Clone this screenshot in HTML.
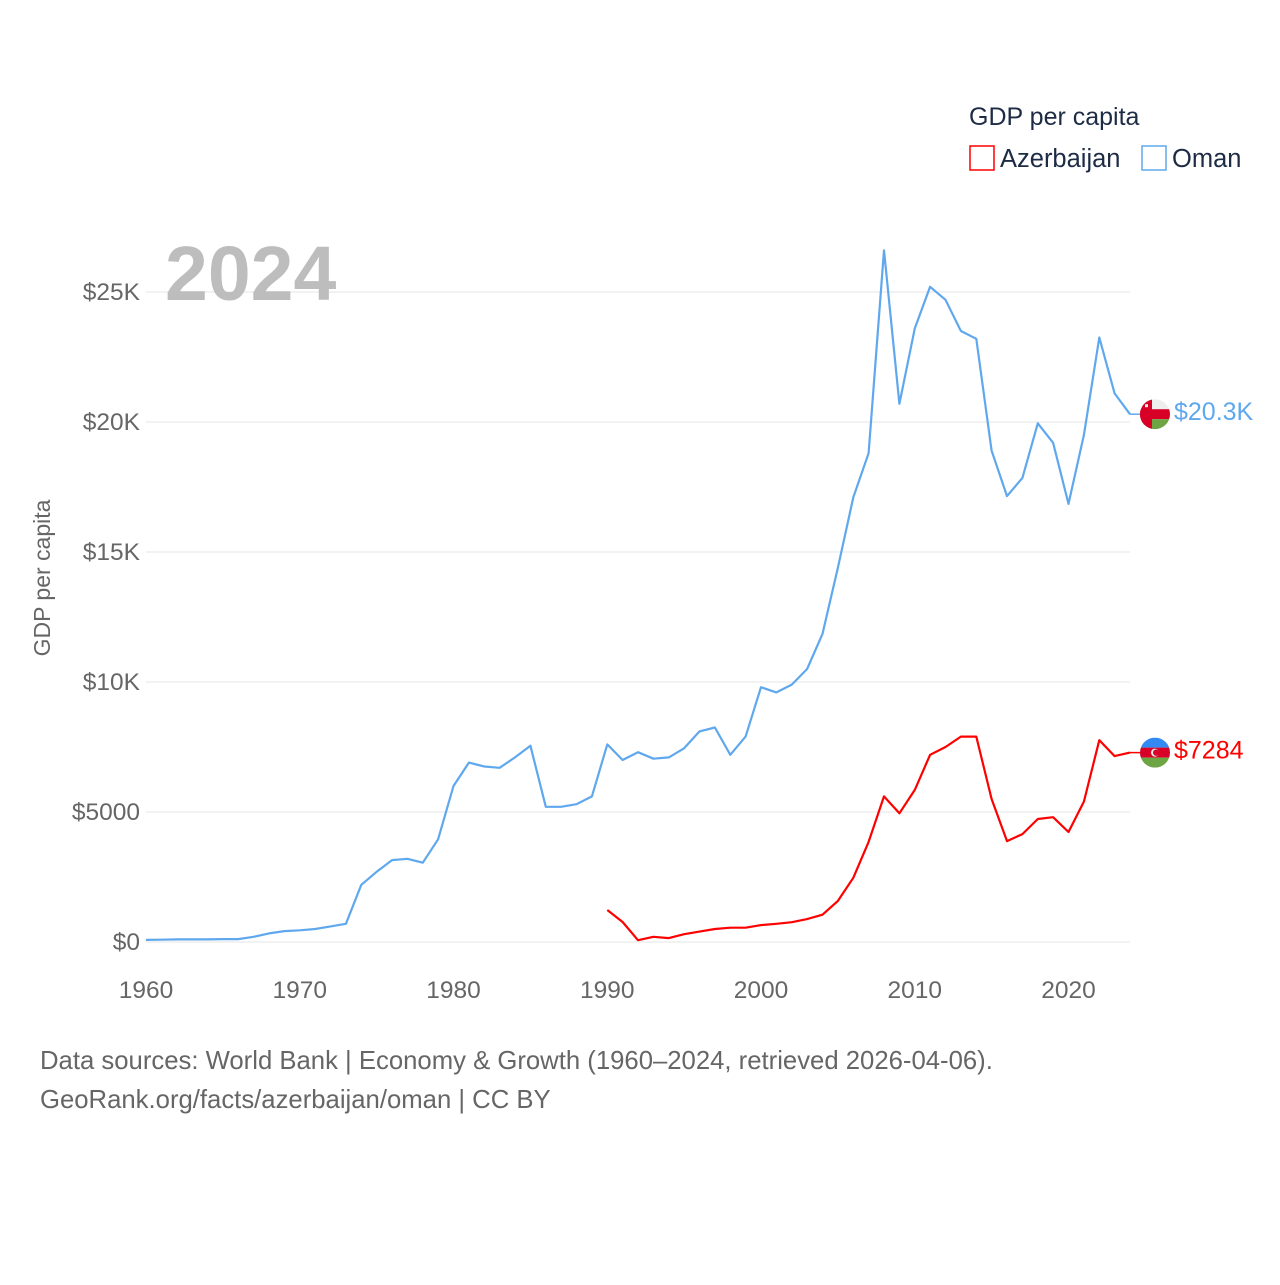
<!DOCTYPE html>
<html><head><meta charset="utf-8"><style>
body{margin:0;background:#fff;}
svg text{font-family:"Liberation Sans",sans-serif;}
</style></head><body>
<svg id="chart" width="1280" height="1280" viewBox="0 0 1280 1280">
<defs>
<clipPath id="c1"><circle cx="0" cy="0" r="15"/></clipPath>
</defs>
<g id="grid"></g>
<g id="yticks"></g>
<g id="xticks"></g>
<text x="165" y="300" font-size="77" font-weight="bold" fill="#bdbdbd">2024</text>
<text transform="translate(50,578) rotate(-90)" text-anchor="middle" font-size="23" fill="#666">GDP per capita</text>
<g id="lines"></g>
<g>
<text x="969" y="125" font-size="25" fill="#1d2b45">GDP per capita</text>
<g>
<rect x="970" y="146" width="24" height="24" fill="none" stroke="#f00" stroke-width="1.5"/>
<text x="1000" y="167" font-size="25.5" fill="#1d2b45">Azerbaijan</text></g>
<g>
<rect x="1142" y="146" width="24" height="24" fill="none" stroke="#5fa8ee" stroke-width="1.5"/>
<text x="1172" y="167" font-size="25.5" fill="#1d2b45">Oman</text></g>
</g>
<text x="40" y="1069" font-size="25.7" fill="#666">Data sources: World Bank | Economy &amp; Growth (1960–2024, retrieved 2026-04-06).</text>
<text x="40" y="1108" font-size="25.7" fill="#666">GeoRank.org/facts/azerbaijan/oman | CC BY</text>
</svg>
<script>
const omanYears=[];for(let y=1960;y<=2024;y++)omanYears.push(y);
const azeYears=[];for(let y=1990;y<=2024;y++)azeYears.push(y);
const omanValues=[0.08,0.09,0.1,0.1,0.1,0.11,0.11,0.2,0.33,0.42,0.45,0.5,0.6,0.7,2.2,2.7,3.15,3.2,3.05,3.95,6.0,6.9,6.75,6.7,7.1,7.55,5.2,5.2,5.3,5.6,7.6,7.0,7.3,7.05,7.1,7.45,8.1,8.25,7.2,7.9,9.8,9.6,9.9,10.5,11.85,14.4,17.1,18.8,26.6,20.7,23.6,25.2,24.7,23.5,23.2,18.9,17.15,17.85,19.95,19.2,16.85,19.5,23.25,21.1,20.3];
const azeValues=[1.23,0.77,0.07,0.2,0.15,0.3,0.4,0.5,0.55,0.55,0.65,0.7,0.76,0.88,1.05,1.58,2.47,3.85,5.6,4.95,5.85,7.2,7.5,7.9,7.9,5.5,3.88,4.15,4.73,4.8,4.23,5.4,7.76,7.15,7.284];
const yTicks=[0,5,10,15,20,25];
const yTickLabels=["$0","$5000","$10K","$15K","$20K","$25K"];
const xTicks=[1960,1970,1980,1990,2000,2010,2020];
const NS="http://www.w3.org/2000/svg";
const X=y=>146+(y-1960)*(1130-146)/64;
const Y=v=>942-v*26;
function mk(t,a,p){const e=document.createElementNS(NS,t);for(const k in a)e.setAttribute(k,a[k]);p.appendChild(e);return e;}
const grid=document.getElementById('grid'),yt=document.getElementById('yticks'),xt=document.getElementById('xticks'),lines=document.getElementById('lines');
yTicks.forEach((v,i)=>{
 const l=mk('line',{x1:146,x2:1130,y1:Y(v),y2:Y(v),stroke:'#e6e6e6','stroke-width':1},grid);
 
 
 const t=mk('text',{x:140,y:Y(v)+8,'text-anchor':'end','font-size':24.5,fill:'#666'},yt);
 t.textContent=yTickLabels[i];
 
 
});
xTicks.forEach(v=>{
 const t=mk('text',{x:X(v),y:998,'text-anchor':'middle','font-size':24.5,fill:'#666'},xt);
 t.textContent=v;
 
 
});
function series(years,vals,color,name){
 const d=years.map((y,i)=>(i?'L':'M')+X(y).toFixed(1)+','+Y(vals[i]).toFixed(1)).join('');
 const p=mk('path',{d:d,fill:'none',stroke:color,'stroke-width':2.2,'stroke-linejoin':'round'},lines);
 
 
 const lx=X(years[years.length-1]),ly=Y(vals[vals.length-1]);
 mk('line',{x1:lx,x2:lx+10,y1:ly,y2:ly,stroke:color,'stroke-width':1.5},lines);
 return ly;
}
const oy=series(omanYears,omanValues,'#5fa8ee','oman');
const ay=series(azeYears,azeValues,'#ff0000','azerbaijan');
function flag(cy,kind){
 const g=mk('g',{transform:'translate(1155,'+cy+')'},lines);
 
 
 const c=mk('g',{'clip-path':'url(#c1)'},g);
 if(kind==='oman'){
  mk('rect',{x:-15,y:-15,width:30,height:10,fill:'#eee'},c);
  mk('rect',{x:-15,y:-5,width:30,height:10,fill:'#d80027'},c);
  mk('rect',{x:-15,y:5,width:30,height:10,fill:'#6da544'},c);
  mk('rect',{x:-15,y:-15,width:12,height:30,fill:'#d80027'},c);
  mk('rect',{x:-10,y:-10,width:3,height:3,fill:'#eee'},c);
 }else{
  mk('rect',{x:-15,y:-15,width:30,height:10,fill:'#338af3'},c);
  mk('rect',{x:-15,y:-5,width:30,height:10,fill:'#d80027'},c);
  mk('rect',{x:-15,y:5,width:30,height:10,fill:'#6da544'},c);
  mk('circle',{cx:0,cy:0,r:4,fill:'#eee'},c);
  mk('circle',{cx:1.2,cy:0,r:3.2,fill:'#d80027'},c);
 }
}
flag(oy,'oman');flag(ay,'azerbaijan');
const l1=mk('text',{x:1174,y:oy+6,'font-size':25,fill:'#5fa8ee'},lines);l1.textContent='$20.3K';


const l2=mk('text',{x:1174,y:ay+6,'font-size':25,fill:'#ff0000'},lines);l2.textContent='$7284';


</script>
</body></html>
